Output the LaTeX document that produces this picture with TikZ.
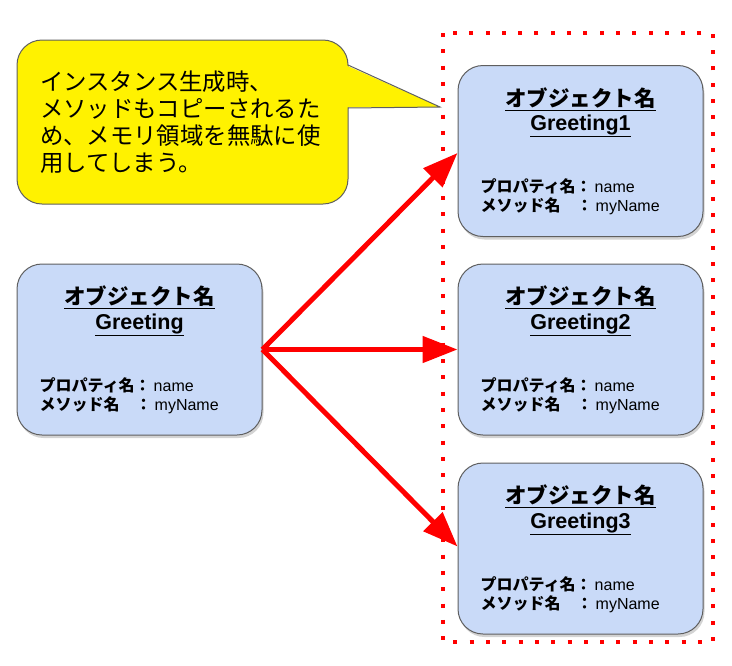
\documentclass[tikz,border=0pt]{standalone}
\usepackage{fontspec}
\setmainfont{Liberation Sans}
\newfontfamily\jpfont{Noto Sans CJK JP}
\usepackage{tikz}
\usetikzlibrary{positioning,arrows.meta,shadows}

\definecolor{boxblue}{HTML}{C9DAF8}
\definecolor{edgegray}{HTML}{5F5F5F}

\tikzset{
	objbox/.style={draw=edgegray, line width=1pt, fill=boxblue, rounded corners=25pt,
		minimum width=245pt, minimum height=171pt, inner sep=0pt,
		drop shadow={shadow xshift=1.5pt, shadow yshift=-3pt, opacity=0.35}},
	titletext/.style={font=\fontsize{21.5}{25}\selectfont\bfseries, inner sep=0pt},
	proptext/.style={font=\fontsize{16}{19}\selectfont, align=left, inner sep=0pt, anchor=west},
	notebox/.style={draw=edgegray, line width=1pt, fill=yellow, rounded corners=25pt,
		minimum width=331pt, minimum height=164pt, inner sep=0pt,
		text width=285pt, align=left, font=\jpfont\fontsize{23.4}{27}\selectfont},
	arr/.style={draw=red, line width=5pt, -{Triangle[length=35pt,width=26pt]}}
}

\newcommand{\objnode}[4]{%
	\node[objbox] (#1) at (#2,#3) {};
	\node[titletext] (#1t) at ([yshift=-34pt]#1.north) {\underline{\jpfont オブジェクト名}};
	\node[titletext] (#1n) at ([yshift=-61pt]#1.north) {\underline{#4}};
	\node[proptext] (#1p) at ([xshift=23pt,yshift=-46pt]#1.west)
		{{\jpfont\bfseries プロパティ名：}\hspace{3pt}name\\{\jpfont\bfseries メソッド名　：}\hspace{3pt}myName};
}

\begin{document}
\begin{tikzpicture}[x=1pt,y=-1pt]
	\useasboundingbox (0,0) rectangle (732,665);

	\draw[red, line width=4pt, dash pattern=on 4pt off 12.3pt] (443,33) rectangle (713,642);

	\node[notebox] (note) at (182.5,122) {インスタンス生成時、\\メソッドもコピーされるた\\め、メモリ領域を無駄に使\\用してしまう。};
	\coordinate (tip) at (440,107);
	\fill[yellow] (346.5,65.5) -- (tip) -- (346.5,107.5) -- cycle;
	\draw[edgegray, line width=1pt] (348,65) -- (tip) -- (348,108);

	\objnode{src}{139.5}{349.5}{Greeting}
	\objnode{g1}{580.5}{151}{Greeting1}
	\objnode{g2}{580.5}{349.5}{Greeting2}
	\objnode{g3}{580.5}{548.5}{Greeting3}

	\draw[arr] (src.east) -- ([yshift=-2pt]g1.west);
	\draw[arr] (src.east) -- (g2.west);
	\draw[arr] (src.east) -- ([yshift=2pt]g3.west);
\end{tikzpicture}
\end{document}
